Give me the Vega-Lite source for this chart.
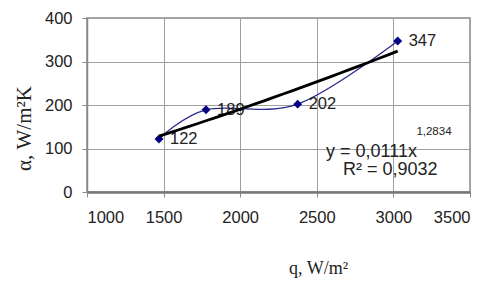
{
  "$schema": "https://vega.github.io/schema/vega-lite/v6.json",
  "width": 383,
  "height": 174,
  "autosize": "none",
  "padding": {"left": 87, "top": 18, "right": 25, "bottom": 90},
  "background": "white",
  "data": {"values": [
    {"q": 1470, "a": 122},
    {"q": 1777, "a": 189},
    {"q": 2375, "a": 202},
    {"q": 3028, "a": 347}
  ]},
  "config": {
    "view": {"stroke": "#8a8a8a", "strokeWidth": 1.5},
    "font": "Liberation Sans"
  },
  "encoding": {
    "x": {"field": "q", "type": "quantitative",
      "scale": {"domain": [1000, 3500], "nice": false, "zero": false},
      "axis": {"values": [1000, 1500, 2000, 2500, 3000, 3500], "format": "d", "title": "q, W/m²",
        "titleFont": "Liberation Serif", "titleFontSize": 18, "titleFontWeight": "normal", "titleColor": "#222",
        "titleX": 231, "titleY": 76, "titleAlign": "center", "titleBaseline": "middle",
        "labelFontSize": 16.5, "labelColor": "#222", "labelPadding": 12, "tickSize": 5,
        "tickColor": "#8a8a8a", "domainColor": "#777", "domainWidth": 2.5,
        "gridColor": "#a0a0a0", "gridWidth": 1, "gridOpacity": 1}},
    "y": {"field": "a", "type": "quantitative",
      "scale": {"domain": [0, 400], "nice": false},
      "axis": {"values": [0, 100, 200, 300, 400], "format": "d", "title": "α, W/m²K",
        "titleFont": "Liberation Serif", "titleFontSize": 21, "titleFontWeight": "normal", "titleColor": "#222",
        "titleX": -63, "titleY": 110, "titleAlign": "center", "titleBaseline": "middle",
        "labelFontSize": 16.5, "labelColor": "#222", "labelPadding": 10, "tickSize": 5,
        "tickColor": "#8a8a8a", "domainColor": "#8a8a8a", "domainWidth": 1.5,
        "gridColor": "#a0a0a0", "gridWidth": 1, "gridOpacity": 1}}
  },
  "layer": [
    {"mark": {"type": "line", "interpolate": "cardinal", "color": "#2a2a8c", "strokeWidth": 1.3}},
    {"mark": {"type": "point", "shape": "diamond", "filled": true, "color": "#000080", "size": 80, "opacity": 1}},
    {"mark": {"type": "text", "align": "left", "baseline": "middle", "dx": 11, "fontSize": 16.5, "color": "#222"},
     "encoding": {"text": {"field": "a", "type": "quantitative"}}},
    {"transform": [{"regression": "a", "on": "q", "method": "pow", "extent": [1470, 3028]}],
     "mark": {"type": "line", "color": "#000000", "strokeWidth": 2.8}},
    {"transform": [{"filter": "datum.q == 1470"}],
     "mark": {"type": "text", "align": "left", "baseline": "middle", "fontSize": 18, "color": "#222", "text": "y = 0,0111x"},
     "encoding": {"x": {"datum": 2560}, "y": {"datum": 92}}},
    {"transform": [{"filter": "datum.q == 1470"}],
     "mark": {"type": "text", "align": "left", "baseline": "middle", "fontSize": 11.5, "color": "#222", "text": "1,2834"},
     "encoding": {"x": {"datum": 3150}, "y": {"datum": 139}}},
    {"transform": [{"filter": "datum.q == 1470"}],
     "mark": {"type": "text", "align": "left", "baseline": "middle", "fontSize": 18, "color": "#222", "text": "R² = 0,9032"},
     "encoding": {"x": {"datum": 2671}, "y": {"datum": 50}}}
  ]
}
